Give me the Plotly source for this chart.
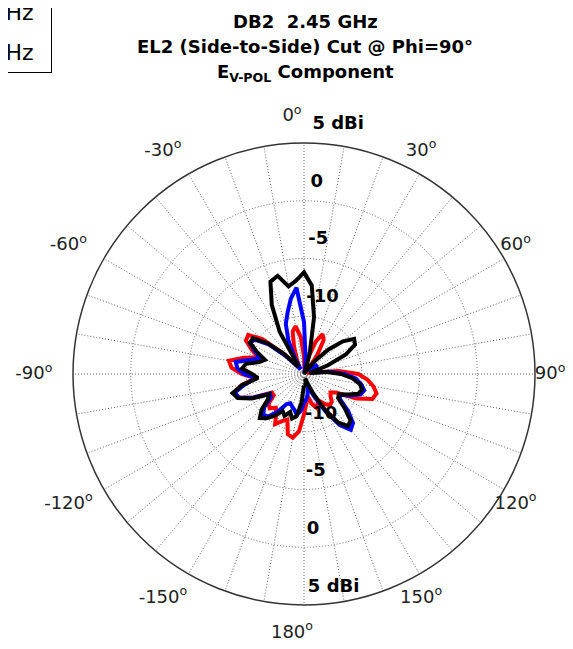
import plotly.graph_objects as go

# ---------------- data ----------------
ANGLES_DEG = list(range(-180, 180, 5))  # -180 .. 175, 5 degree steps

TRACE_NAMES = ["Trial 1: 2.45 GHz\u2002", "Trial 2: 2.45 GHz\u2002", "Trial 3: 2.45 GHz\u2002"]
TRACE_COLORS = ["#ff0000", "#0000ff", "#000000"]

red_db = [
    -11.5, -10.0, -9.4, -9.6, -10.8, -10.5, -10.0, -10.8, -11.2, -10.8, -11.0, -11.8,
    -11.8, -10.2, -9.0, -8.8, -9.5, -10.8, -9.6, -8.7, -8.4, -9.6, -10.8, -10.0,
    -9.2, -9.1, -10.3, -12.6, -14.0, -14.3, -14.0, -13.5, -12.5, -11.2, -10.8, -11.8,
    -13.5, -14.5, -14.5, -13.5, -12.0, -11.2, -11.6, -13.0, -14.3, -14.6, -14.5, -14.2,
    -14.2, -14.5, -14.6, -14.6, -14.2, -12.0, -10.3, -9.5, -8.9, -8.5, -8.7, -10.0,
    -11.8, -12.2, -12.0, -11.6, -11.5, -11.8, -12.3, -12.2, -11.9, -12.3, -13.0, -12.5,
]
blue_db = [
    -12.5, -11.8, -11.4, -11.8, -12.0, -12.2, -12.0, -11.0, -10.2, -10.0, -10.5, -11.5,
    -11.6, -10.2, -9.0, -8.8, -9.8, -10.8, -9.8, -9.2, -9.0, -10.2, -11.0, -10.3,
    -9.6, -9.8, -11.0, -12.8, -14.2, -14.5, -13.5, -11.8, -10.4, -9.5, -8.4, -7.5,
    -10.5, -13.5, -14.5, -14.8, -14.8, -14.5, -14.5, -14.6, -14.4, -14.2, -14.0, -13.6,
    -13.8, -14.3, -14.5, -14.2, -14.2, -12.8, -11.5, -10.5, -10.0, -9.6, -9.8, -10.6,
    -11.4, -11.2, -10.0, -9.0, -8.7, -9.6, -11.2, -12.8, -13.6, -13.8, -13.2, -12.8,
]
black_db = [
    -14.0, -12.5, -11.3, -11.0, -11.5, -11.0, -11.3, -10.6, -10.0, -9.6, -10.2, -11.2,
    -11.5, -10.0, -8.9, -8.6, -9.6, -11.0, -10.5, -9.6, -9.9, -11.0, -11.4, -10.5,
    -9.6, -9.6, -10.8, -12.5, -14.0, -14.2, -10.8, -8.4, -6.5, -6.2, -7.3, -6.9,
    -6.2, -7.3, -10.0, -13.0, -14.5, -15.0, -15.0, -14.6, -13.5, -12.0, -10.6, -9.7,
    -9.9, -11.0, -12.8, -14.2, -14.5, -13.0, -11.8, -10.8, -10.1, -9.8, -10.0, -10.8,
    -11.5, -11.4, -10.4, -9.3, -9.1, -9.9, -11.5, -13.2, -14.2, -14.6, -14.2, -14.0,
]
SERIES = [red_db, blue_db, black_db]

R_RANGE = [-15, 5]
RING_VALUES = [-10, -5, 0, 5]
RING_LABELS = ["-10", "-5", "0", "5 dBi"]
SPOKE_VALUES = list(range(0, 360, 10))
LABEL_ANGLES = list(range(0, 360, 30))
ANGLE_LABELS = ["0", "30", "60", "90", "120", "150", "180", "-150", "-120", "-90", "-60", "-30"]

TITLE_LINES = [
    "DB2 \u00a02.45 GHz",
    "EL2 (Side-to-Side) Cut @ Phi=90\u00b0",
    "E<sub>V-POL</sub> Component",
]

# ---------------- layout geometry (pixels) ----------------
W, H = 573, 649
CX, CY, RAD = 296, 366, 231          # centre and radius of the polar plot
LBL_CX, LBL_CY = 284, 367            # centre of the ring of angle labels (MATLAB-like offset)
LABEL_R_MAX = 8.0                    # outer range of the (invisible) label subplots
ANGLE_LABEL_R = 7.35                 # angle labels are centred on this ring
RADIAL_LABEL_SHIFT_TOP = 0.85
RADIAL_LABEL_SHIFT_BOTTOM = -0.75
GRID_DASH = "1px,2px"
GRID_COLOR = "#666666"


def square_domain(cx, cy, radius_px):
    return dict(
        x=[(cx - radius_px) / W, (cx + radius_px) / W],
        y=[(H - cy - radius_px) / H, (H - cy + radius_px) / H],
    )


label_rad = RAD * (LABEL_R_MAX - R_RANGE[0]) / (R_RANGE[1] - R_RANGE[0])

fig = go.Figure()

for name, color, vals in zip(TRACE_NAMES, TRACE_COLORS, SERIES):
    fig.add_trace(go.Scatterpolar(
        r=vals + vals[:1],
        theta=ANGLES_DEG + ANGLES_DEG[:1],
        mode="lines",
        name=name,
        legendgroup=name,
        line=dict(color=color, width=4),
        subplot="polar",
    ))

# angular labels
fig.add_trace(go.Scatterpolar(
    r=[ANGLE_LABEL_R] * len(LABEL_ANGLES),
    theta=LABEL_ANGLES,
    mode="text",
    text=[f"{t}<sup>o</sup>" for t in ANGLE_LABELS],
    textposition="middle center",
    textfont=dict(family="DejaVu Sans", size=18, color="#222222"),
    showlegend=False,
    hoverinfo="skip",
    cliponaxis=False,
    subplot="polar2",
))

# radial tick labels, top and bottom (as in MATLAB polar)
for th, shift in ((2, RADIAL_LABEL_SHIFT_TOP), (179, RADIAL_LABEL_SHIFT_BOTTOM)):
    fig.add_trace(go.Scatterpolar(
        r=[v + shift for v in RING_VALUES],
        theta=[th] * len(RING_VALUES),
        mode="text",
        text=RING_LABELS,
        textposition="top right",
        textfont=dict(family="DejaVu Sans", size=18, color="black", weight="bold"),
        showlegend=False,
        hoverinfo="skip",
        cliponaxis=False,
        subplot="polar3",
    ))

hidden_radial = dict(range=[R_RANGE[0], LABEL_R_MAX], visible=False, showgrid=False,
                     showline=False, showticklabels=False, ticks="")
hidden_angular = dict(direction="clockwise", rotation=90, visible=False, showgrid=False,
                      showline=False, showticklabels=False, ticks="")

fig.update_layout(
    width=W, height=H,
    margin=dict(l=0, r=0, t=0, b=0, autoexpand=False),
    paper_bgcolor="white",
    plot_bgcolor="white",
    showlegend=True,
    legend=dict(
        x=44 / W, xanchor="right",
        y=(H - 65) / H, yanchor="bottom",
        bordercolor="black", borderwidth=1, bgcolor="white",
        font=dict(family="DejaVu Sans", size=22, color="black"),
        tracegroupgap=8,
    ),
    polar=dict(
        domain=square_domain(CX, CY, RAD),
        bgcolor="white",
        angularaxis=dict(
            direction="clockwise",
            rotation=90,
            tickmode="array",
            tickvals=SPOKE_VALUES,
            showticklabels=False,
            ticks="",
            showgrid=True,
            gridcolor=GRID_COLOR,
            griddash=GRID_DASH,
            gridwidth=1,
            showline=True,
            linecolor="#333333",
            linewidth=1.5,
        ),
        radialaxis=dict(
            range=R_RANGE,
            tickmode="array",
            tickvals=RING_VALUES,
            showticklabels=False,
            ticks="",
            showline=False,
            showgrid=True,
            gridcolor=GRID_COLOR,
            griddash=GRID_DASH,
            gridwidth=1,
        ),
    ),
    polar2=dict(
        domain=square_domain(LBL_CX, LBL_CY, label_rad),
        bgcolor="rgba(0,0,0,0)",
        angularaxis=hidden_angular,
        radialaxis=hidden_radial,
    ),
    polar3=dict(
        domain=square_domain(CX, CY, label_rad),
        bgcolor="rgba(0,0,0,0)",
        angularaxis=hidden_angular,
        radialaxis=hidden_radial,
    ),
)

title_y_px = [14, 38, 65]
for txt, ypx in zip(TITLE_LINES, title_y_px):
    fig.add_annotation(
        text=f"<b>{txt}</b>",
        x=297 / W, y=(H - ypx) / H,
        xref="paper", yref="paper",
        xanchor="center", yanchor="middle",
        showarrow=False,
        font=dict(family="DejaVu Sans", size=18, color="black"),
    )

fig.write_html("out.html")
